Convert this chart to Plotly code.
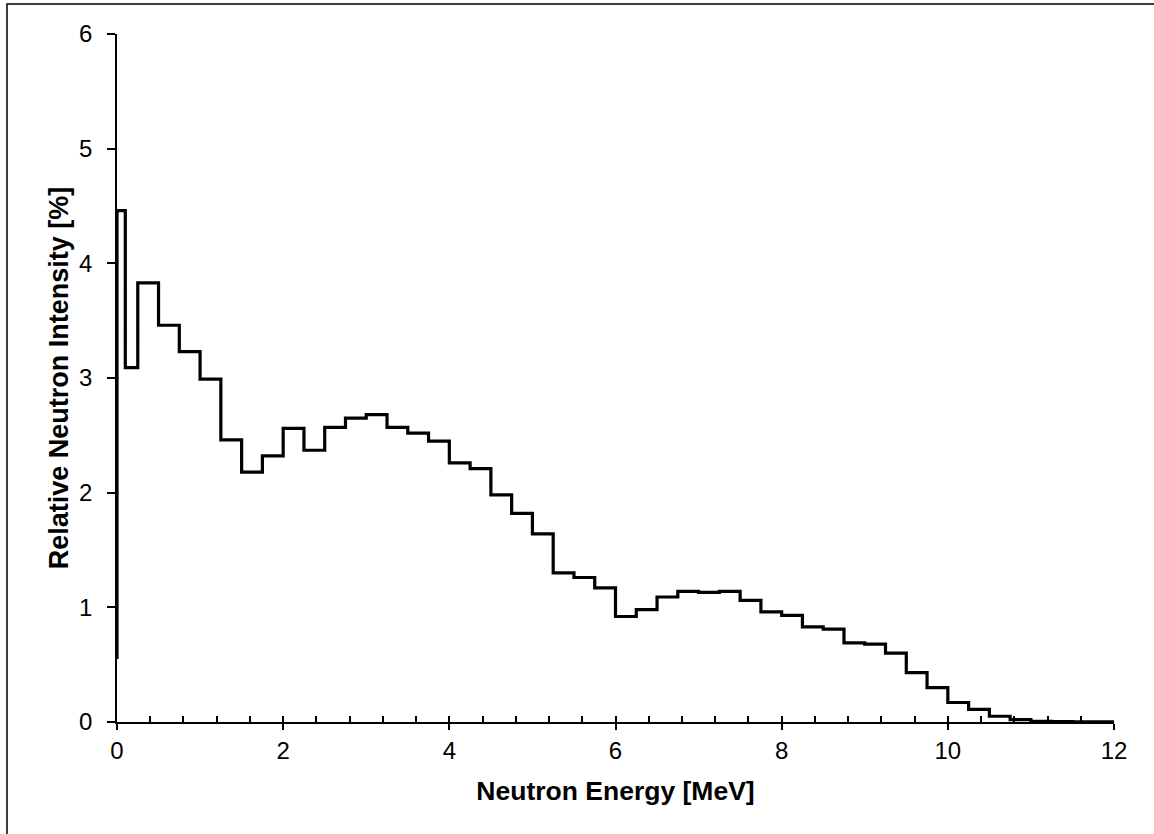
import plotly.graph_objects as go

# ---- data ----
bin_edges = [0.0, 0.1, 0.25, 0.5, 0.75, 1.0, 1.25, 1.5, 1.75, 2.0, 2.25, 2.5, 2.75,
             3.0, 3.25, 3.5, 3.75, 4.0, 4.25, 4.5, 4.75, 5.0, 5.25, 5.5, 5.75,
             6.0, 6.25, 6.5, 6.75, 7.0, 7.25, 7.5, 7.75, 8.0, 8.25, 8.5, 8.75,
             9.0, 9.25, 9.5, 9.75, 10.0, 10.25, 10.5, 10.75, 11.0, 11.25, 11.5,
             11.75, 12.0]
intensity = [4.46, 3.09, 3.83, 3.46, 3.23, 2.99, 2.46, 2.18, 2.32, 2.56, 2.37, 2.57,
             2.65, 2.68, 2.57, 2.52, 2.45, 2.26, 2.21, 1.98, 1.82, 1.64, 1.30, 1.26,
             1.17, 0.92, 0.98, 1.09, 1.14, 1.13, 1.14, 1.06, 0.96, 0.93, 0.83, 0.81,
             0.69, 0.68, 0.60, 0.43, 0.30, 0.17, 0.11, 0.05, 0.02, 0.005, 0.003,
             0.002, 0.001]
start_value = 0.55

x_vals = [bin_edges[0]] + bin_edges
y_vals = [start_value] + intensity + [intensity[-1]]

W, H = 1154, 834
ML, MR, MT, MB = 117, 40, 34, 112
FONT = "Liberation Sans, Arial, sans-serif"

fig = go.Figure()
fig.add_trace(go.Scatter(x=x_vals, y=y_vals, mode="lines", line_shape="hv",
                         line=dict(color="black", width=3.2), cliponaxis=False,
                         showlegend=False, hoverinfo="skip"))
# overlay axis for minor (inside) ticks
fig.add_trace(go.Scatter(x=[0, 12], y=[0, 0], xaxis="x2", mode="lines",
                         line=dict(width=0), showlegend=False, hoverinfo="skip"))

fig.update_layout(
    width=W, height=H,
    margin=dict(l=ML, r=MR, t=MT, b=MB),
    paper_bgcolor="white", plot_bgcolor="white",
    font=dict(family=FONT, color="black", size=24),
    xaxis=dict(range=[0, 12], dtick=2, tick0=0, showline=True, linecolor="black",
               linewidth=1.5, ticks="outside", ticklen=6, tickwidth=1.5,
               tickcolor="black", showgrid=False, zeroline=False,
               tickfont=dict(size=24, family=FONT),
               title=dict(text="<b>Neutron Energy [MeV]</b>", font=dict(size=26.5, family=FONT),
                          standoff=19)),
    xaxis2=dict(range=[0, 12], dtick=0.4, tick0=0, overlaying="x", side="bottom",
                showline=False, ticks="inside", ticklen=6, tickwidth=1.5,
                tickcolor="black", showticklabels=False, showgrid=False,
                zeroline=False),
    yaxis=dict(range=[0, 6], dtick=1, tick0=0, showline=True, linecolor="black",
               linewidth=1.5, ticks="outside", ticklen=8, tickwidth=1.5,
               tickcolor="black", showgrid=False, zeroline=False,
               tickfont=dict(size=24, family=FONT), ticklabelstandoff=10,
               title=dict(text="<b>Relative Neutron Intensity [%]</b>",
                          font=dict(size=27, family=FONT), standoff=3)),
)

pw = W - ML - MR
ph = H - MT - MB
fig.add_shape(type="rect", xref="paper", yref="paper",
              x0=(7 - ML) / pw, x1=(W + 5 - ML) / pw,
              y0=(H - (H + 5) - MB) / ph, y1=(H - 4 - MB) / ph,
              line=dict(color="black", width=1.5), fillcolor="rgba(0,0,0,0)",
              layer="below")

fig.write_html("out.html")
